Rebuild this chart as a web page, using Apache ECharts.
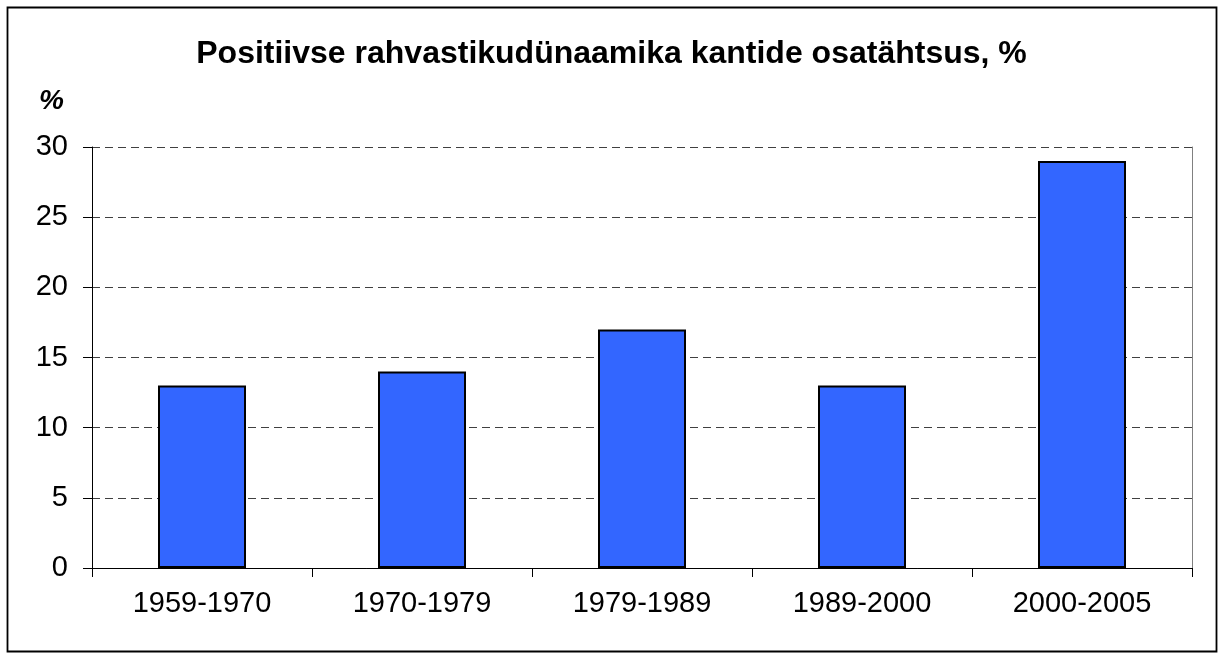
<!DOCTYPE html>
<html><head><meta charset="utf-8">
<script src="https://cdn.jsdelivr.net/npm/echarts@6/dist/echarts.min.js"></script>
<style>html,body{margin:0;padding:0;background:#fff}#c{width:1223px;height:659px}</style>
</head><body><div id="c"></div>
<script>
const categories = ['1959-1970','1970-1979','1979-1989','1989-2000','2000-2005'];
const values = [13, 14, 17, 13, 29];
const yTicks = {min: 0, max: 30, interval: 5};
const titleText = 'Positiivse rahvastikudünaamika kantide osatähtsus, %';
const unitLabel = '%';

const chart = echarts.init(document.getElementById('c'), null, {renderer: 'canvas'});
chart.setOption({
  animation: false,
  backgroundColor: '#fff',
  title: {
    text: titleText, left: 'center', top: 33,
    textStyle: {fontFamily: 'Liberation Sans, Arial', fontWeight: 'bold', fontSize: 32, color: '#000'}
  },
  graphic: [
    {type: 'rect', shape: {x: 7.5, y: 7.5, width: 1209, height: 644}, style: {fill: 'none', stroke: '#000', lineWidth: 1.8}, silent: true, z: -1},
    {type: 'text', left: 39, top: 87, style: {text: unitLabel, font: 'italic bold 28px "Liberation Sans", Arial', fill: '#000'}}
  ],
  grid: {left: 92, right: 31, top: 147, bottom: 91, containLabel: false},
  xAxis: {
    type: 'category', data: categories,
    axisLine: {lineStyle: {color: '#000', width: 1}},
    axisTick: {show: true, length: 9, alignWithLabel: false, lineStyle: {color: '#000'}},
    axisLabel: {fontFamily: 'Liberation Sans, Arial', fontSize: 29, color: '#000', margin: 21}
  },
  yAxis: [{
    type: 'value', min: yTicks.min, max: yTicks.max, interval: yTicks.interval,
    axisLine: {show: true, lineStyle: {color: '#000', width: 1}},
    axisTick: {show: true, length: 9, lineStyle: {color: '#000'}},
    axisLabel: {fontFamily: 'Liberation Sans, Arial', fontSize: 29, color: '#000', margin: 24},
    splitLine: {show: true, lineStyle: {color: '#000', type: [8, 5], width: 1, opacity: 0.75}}
  }, {
    type: 'value', position: 'right', min: yTicks.min, max: yTicks.max, interval: yTicks.interval,
    axisLine: {show: true, lineStyle: {color: '#808080', width: 1}},
    axisTick: {show: false}, axisLabel: {show: false}, splitLine: {show: false}
  }],
  series: [{
    type: 'bar', data: values, barWidth: '40%', yAxisIndex: 0,
    itemStyle: {color: '#3366FF', borderColor: '#000', borderWidth: 2}
  }]
});
</script></body></html>
